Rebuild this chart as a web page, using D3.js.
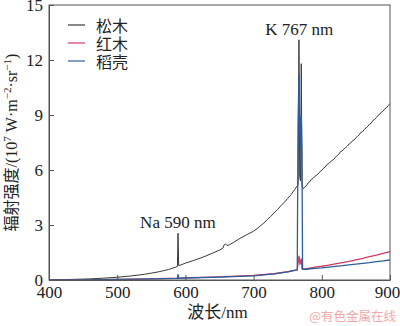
<!DOCTYPE html>
<html>
<head>
<meta charset="utf-8">
<script src="https://cdn.jsdelivr.net/npm/d3@7"></script>
<style>
  html, body { margin: 0; padding: 0; background: #fff; }
  svg { display: block; }
  .serif { font-family: "Liberation Serif", "DejaVu Serif", "Noto Sans CJK SC", serif; }
  .cjk { font-family: "Noto Sans CJK SC", "Liberation Serif", sans-serif; }
</style>
</head>
<body>
<svg id="chart" width="400" height="326"></svg>
<script>
// Emission spectra of three biomass flames (radiance vs wavelength)
const seriesNames = ["松木", "红木", "稻壳"];
const seriesColors = ["#3a3a3a", "#d23a62", "#2c5d9c"];

// [wavelength nm, radiance 10^7 W·m^-2·sr^-1]
const pine = [
  [400,0.01],[420,0.02],[440,0.04],[460,0.06],[480,0.10],[500,0.15],[520,0.22],[540,0.31],
  [560,0.44],[575,0.57],[585,0.69],[588.3,0.74],[589.2,2.55],[590.1,0.80],[592,0.80],[600,0.92],
  [610,1.04],[620,1.17],[630,1.31],[640,1.47],[650,1.63],[655,1.74],[657,1.93],[659,1.97],
  [661,1.88],[665,1.93],[670,2.04],[680,2.27],[690,2.47],[700,2.66],[705,2.80],[710,2.96],
  [715,3.10],[720,3.30],[725,3.46],[730,3.66],[735,3.84],[740,4.05],[745,4.24],[750,4.45],
  [755,4.66],[760,4.92],[763,5.08],[765.3,5.20],[766.5,13.1],[767.6,5.6],[768.8,5.4],[769.9,11.8],
  [771,5.10],[773,4.98],[775,5.08],[777.5,5.14],[780,5.30],[782.5,5.36],[785,5.50],[787.5,5.55],
  [790,5.66],[792.5,5.72],[795,5.80],[797.5,5.92],[800,5.98],[802.5,6.10],[805,6.16],[807.5,6.30],
  [810,6.34],[812.5,6.44],[815,6.52],[817.5,6.58],[820,6.70],[822.5,6.78],[825,6.86],[827.5,7.00],
  [830,7.04],[832.5,7.16],[835,7.22],[837.5,7.30],[840,7.42],[842.5,7.48],[845,7.60],[847.5,7.64],
  [850,7.76],[852.5,7.84],[855,7.92],[857.5,8.06],[860,8.10],[862.5,8.22],[865,8.30],[867.5,8.38],
  [870,8.50],[872.5,8.56],[875,8.70],[877.5,8.76],[880,8.86],[882.5,8.98],[885,9.04],[887.5,9.16],
  [890,9.22],[892.5,9.34],[895,9.40],[897.5,9.52],[900,9.62]
];

const mahogany = [
  [400,0.00],[450,0.01],[500,0.03],[550,0.06],[588.3,0.10],[589.2,0.22],[590.1,0.10],[600,0.12],
  [650,0.17],[700,0.25],[730,0.34],[750,0.45],[760,0.52],[764,0.55],[766.5,1.30],[768,0.85],
  [769.9,1.15],[771,0.60],[775,0.60],[780,0.64],[790,0.70],[800,0.75],[810,0.81],[820,0.88],
  [830,0.95],[840,1.02],[850,1.10],[860,1.18],[870,1.27],[880,1.36],[890,1.45],[900,1.55]
];

const husk = [
  [400,0.00],[450,0.01],[500,0.03],[550,0.06],[588.3,0.09],[589.2,0.30],[590.1,0.09],[600,0.11],
  [650,0.16],[700,0.23],[730,0.33],[750,0.44],[760,0.52],[764,0.55],[765.2,8.6],[766.5,11.2],
  [767.4,8.9],[768.3,7.2],[769.2,8.8],[769.9,9.0],[770.9,7.0],[771.8,0.60],[775,0.58],[780,0.60],
  [790,0.63],[800,0.66],[810,0.70],[820,0.74],[830,0.78],[840,0.83],[850,0.87],[860,0.91],
  [870,0.95],[880,1.00],[890,1.04],[900,1.09]
];

const xTicks = [400, 500, 600, 700, 800, 900];
const yTicks = [0, 3, 6, 9, 12, 15];

const svg = d3.select("#chart");
const m = { left: 49, right: 390, top: 5, bottom: 280 };

const x = d3.scaleLinear().domain([400, 900]).range([m.left, m.right]);
const y = d3.scaleLinear().domain([0, 15]).range([m.bottom, m.top]);

const line = d3.line().x(d => x(d[0])).y(d => y(d[1]));

// spectra
const plot = svg.append("g");
[pine, mahogany, husk].forEach((s, i) => {
  plot.append("path")
    .datum(s)
    .attr("fill", "none")
    .attr("stroke", seriesColors[i])
    .attr("stroke-width", i === 0 ? 1 : 1.3)
    .attr("stroke-linejoin", "round")
    .attr("d", line);
});

// frame
svg.append("rect")
  .attr("x", m.left).attr("y", m.top)
  .attr("width", m.right - m.left).attr("height", m.bottom - m.top)
  .attr("fill", "none").attr("stroke", "#555").attr("stroke-width", 1);

// axes with inward ticks
const xAxis = svg.append("g")
  .attr("transform", `translate(0,${m.bottom})`)
  .call(d3.axisBottom(x).tickValues(xTicks).tickSizeInner(-5).tickSizeOuter(0).tickPadding(6));
const yAxis = svg.append("g")
  .attr("transform", `translate(${m.left},0)`)
  .call(d3.axisLeft(y).tickValues(yTicks).tickSizeInner(-5).tickSizeOuter(0).tickPadding(6));

[xAxis, yAxis].forEach(g => {
  g.attr("font-family", null);
  g.select(".domain").attr("stroke", "#555");
  g.selectAll(".tick line").attr("stroke", "#555");
  g.selectAll(".tick text")
    .attr("class", "serif")
    .style("font-size", "17px").attr("fill", "#222");
});
xAxis.selectAll(".tick text").filter(d => d === 900).attr("dx", -3);

// peak annotations
svg.append("text")
  .attr("class", "serif")
  .attr("x", x(767)).attr("y", 35)
  .attr("text-anchor", "middle")
  .style("font-size", "17px").attr("fill", "#222")
  .text("K 767 nm");
svg.append("text")
  .attr("class", "serif")
  .attr("x", x(589)).attr("y", 228)
  .attr("text-anchor", "middle")
  .style("font-size", "17px").attr("fill", "#222")
  .text("Na 590 nm");

// legend
const legend = svg.append("g");
seriesNames.forEach((name, i) => {
  const ly = 25 + i * 18;
  legend.append("line")
    .attr("x1", 68).attr("x2", 85).attr("y1", ly).attr("y2", ly)
    .attr("stroke", seriesColors[i]).attr("stroke-width", 1.2);
  legend.append("text")
    .attr("class", "cjk")
    .attr("x", 96).attr("y", ly)
    .attr("dominant-baseline", "central")
    .style("font-size", "16px").attr("fill", "#222")
    .text(name);
});

// axis titles
svg.append("text")
  .attr("class", "serif")
  .attr("x", (m.left + m.right) / 2 - 2).attr("y", 318)
  .attr("text-anchor", "middle")
  .style("font-size", "17px").attr("fill", "#222")
  .text("波长/nm");

const yt = svg.append("text")
  .attr("class", "serif")
  .attr("transform", `translate(17,${(m.top + m.bottom) / 2}) rotate(-90)`)
  .attr("text-anchor", "middle")
  .style("font-size", "16px").attr("fill", "#222");
yt.append("tspan").text("辐射强度/(10");
yt.append("tspan").style("font-size", "11px").attr("dy", -6).text("7");
yt.append("tspan").attr("dy", 6).text(" W·m");
yt.append("tspan").style("font-size", "11px").attr("dy", -6).text("−2");
yt.append("tspan").attr("dy", 6).text("·sr");
yt.append("tspan").style("font-size", "11px").attr("dy", -6).text("−1");
yt.append("tspan").attr("dy", 6).text(")");

// source mark
svg.append("text")
  .attr("class", "cjk")
  .attr("x", 396).attr("y", 321)
  .attr("text-anchor", "end")
  .style("font-size", "12.5px").attr("fill", "#f2a9a9")
  .text("@有色金属在线");
</script>
</body>
</html>
